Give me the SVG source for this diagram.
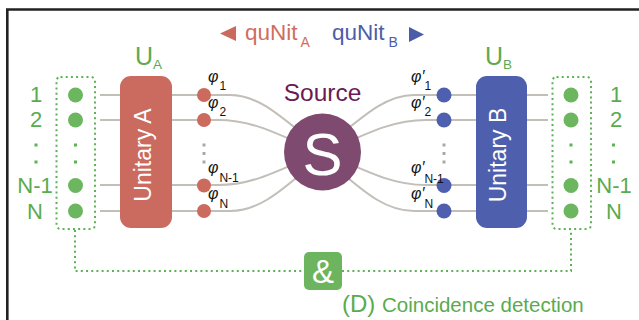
<svg xmlns="http://www.w3.org/2000/svg" width="639" height="320" viewBox="0 0 639 320">
<style>
  text { font-family: "Liberation Sans", Arial, sans-serif; }
  .g { fill: #5aab4f; }
  .num { font-size: 22px; text-anchor: middle; fill: #5aab4f; }
  .wire { fill: none; stroke: #c2beb8; stroke-width: 2; }
  .dotbox { fill: none; stroke: #5db253; stroke-width: 2; stroke-dasharray: 2 3.2; }
  .gdot { fill: #6cb660; }
  .rdot { fill: #cc6a5d; }
  .bdot { fill: #4d5fae; }
  .phi { font-size: 16px; font-style: italic; fill: #111; }
  .sub { font-size: 12px; font-style: normal; }
  .ell { fill: #a9a9a9; }
  .gell { fill: #5db253; }
</style>

<path d="M7.3 320 V9.5 H639" fill="none" stroke="#222" stroke-width="2.6"/>

<g id="title">
  <polygon points="220,33.5 236,26 236,41" fill="#c96a5c"/>
  <text x="245" y="40" font-size="22.5" fill="#cf6e60">quNit<tspan font-size="14" dx="3" dy="7">A</tspan></text>
  <text x="332" y="40" font-size="22.5" fill="#4c5ea9">quNit<tspan font-size="14" dx="4" dy="7">B</tspan></text>
  <polygon points="424,34.5 409,27 409,42" fill="#4a5ca8"/>
</g>

<g id="connectors">
  <path class="wire" d="M100 95 H230 C256 95 276 112 310 140"/>
  <path class="wire" d="M100 120 H218 C248 120 270 130 310 148"/>
  <path class="wire" d="M100 185 H218 C248 185 270 175 310 157"/>
  <path class="wire" d="M100 211 H230 C256 211 276 196 310 166"/>
  <path class="wire" d="M548 95 H414 C388 95 368 112 334 140"/>
  <path class="wire" d="M548 120 H426 C396 120 374 130 334 148"/>
  <path class="wire" d="M548 185 H426 C396 185 374 175 334 157"/>
  <path class="wire" d="M548 211 H414 C388 211 368 196 334 166"/>
  <path class="dotbox" d="M75 230 V271 H304"/>
  <path class="dotbox" d="M342 271 H571 V230"/>
</g>

<g id="inputs-A">
  <text class="num" x="36" y="102">1</text>
  <text class="num" x="36" y="127">2</text>
  <rect class="gell" x="34.5" y="143.5" width="3" height="3"/>
  <rect class="gell" x="34.5" y="160.5" width="3" height="3"/>
  <text class="num" x="35" y="193">N-1</text>
  <text class="num" x="35" y="219">N</text>
  <rect class="dotbox" x="56.5" y="77" width="38.5" height="152" rx="4"/>
  <circle class="gdot" cx="75.5" cy="95" r="7.5"/>
  <circle class="gdot" cx="75.5" cy="120" r="7.5"/>
  <rect class="gell" x="74" y="143.5" width="3" height="3"/>
  <rect class="gell" x="74" y="160.5" width="3" height="3"/>
  <circle class="gdot" cx="75.5" cy="185.5" r="7.5"/>
  <circle class="gdot" cx="75.5" cy="211" r="7.5"/>
</g>

<g id="unitary-A">
  <text x="135" y="65" font-size="25" class="g">U<tspan font-size="13.5" dy="4">A</tspan></text>
  <rect x="120" y="76" width="52" height="152" rx="11" fill="#cb6a5e"/>
  <text transform="translate(150.5,155) rotate(-90)" font-size="23" fill="#fff" text-anchor="middle">Unitary A</text>
</g>

<g id="qunit-A">
  <circle class="rdot" cx="204" cy="95" r="7"/>
  <circle class="rdot" cx="204" cy="120" r="7"/>
  <rect class="ell" x="202.5" y="143.5" width="3" height="3"/>
  <rect class="ell" x="202.5" y="152" width="3" height="3"/>
  <rect class="ell" x="202.5" y="160.5" width="3" height="3"/>
  <circle class="rdot" cx="204" cy="185.5" r="7"/>
  <circle class="rdot" cx="204" cy="211" r="7"/>
  <text class="phi" x="208" y="82">φ<tspan class="sub" dx="1" dy="8">1</tspan></text>
  <text class="phi" x="208" y="108">φ<tspan class="sub" dx="1" dy="8">2</tspan></text>
  <text class="phi" x="208" y="173">φ<tspan class="sub" dx="1" dy="9">N-1</tspan></text>
  <text class="phi" x="208" y="199">φ<tspan class="sub" dx="1" dy="9">N</tspan></text>
</g>

<g id="source">
  <text x="322.5" y="101" font-size="24.5" fill="#6b1a55" text-anchor="middle">Source</text>
  <circle cx="322.5" cy="152" r="38.5" fill="#7e4a6f"/>
  <text x="322.5" y="175" font-size="60" fill="#fff" text-anchor="middle">S</text>
</g>

<g id="qunit-B">
  <circle class="bdot" cx="444" cy="95" r="7.5"/>
  <circle class="bdot" cx="444" cy="120" r="7.5"/>
  <rect class="ell" x="442.5" y="143.5" width="3" height="3"/>
  <rect class="ell" x="442.5" y="152" width="3" height="3"/>
  <rect class="ell" x="442.5" y="160.5" width="3" height="3"/>
  <circle class="bdot" cx="444" cy="185.5" r="7.5"/>
  <circle class="bdot" cx="444" cy="211" r="7.5"/>
  <text class="phi" x="411" y="82">φ′<tspan class="sub" dy="8">1</tspan></text>
  <text class="phi" x="411" y="108">φ′<tspan class="sub" dy="8">2</tspan></text>
  <text class="phi" x="411" y="173">φ′<tspan class="sub" dy="10">N-1</tspan></text>
  <text class="phi" x="411" y="199">φ′<tspan class="sub" dy="9">N</tspan></text>
</g>

<g id="unitary-B">
  <text x="485" y="65" font-size="25" class="g">U<tspan font-size="13.5" dy="4">B</tspan></text>
  <rect x="476" y="76" width="51" height="152" rx="11" fill="#4e5fae"/>
  <text transform="translate(506,155) rotate(-90)" font-size="23" fill="#fff" text-anchor="middle">Unitary B</text>
</g>

<g id="inputs-B">
  <rect class="dotbox" x="552.5" y="77" width="38.5" height="152" rx="4"/>
  <circle class="gdot" cx="571" cy="95" r="7.5"/>
  <circle class="gdot" cx="571" cy="120" r="7.5"/>
  <rect class="gell" x="569.5" y="143.5" width="3" height="3"/>
  <rect class="gell" x="569.5" y="160.5" width="3" height="3"/>
  <circle class="gdot" cx="571" cy="185.5" r="7.5"/>
  <circle class="gdot" cx="571" cy="211" r="7.5"/>
  <text class="num" x="616" y="102">1</text>
  <text class="num" x="616" y="127">2</text>
  <rect class="gell" x="612" y="143.5" width="3" height="3"/>
  <rect class="gell" x="612" y="160.5" width="3" height="3"/>
  <text class="num" x="614" y="193">N-1</text>
  <text class="num" x="614" y="219">N</text>
</g>

<g id="coincidence">
  <rect x="304" y="252" width="38" height="38" rx="5" fill="#6cb45e"/>
  <text x="323" y="283" font-size="33" fill="#fff" text-anchor="middle">&amp;</text>
  <text x="342" y="312" font-size="24" class="g">(D)</text>
  <text x="382" y="312" font-size="20.5" class="g">Coincidence detection</text>
</g>
</svg>
